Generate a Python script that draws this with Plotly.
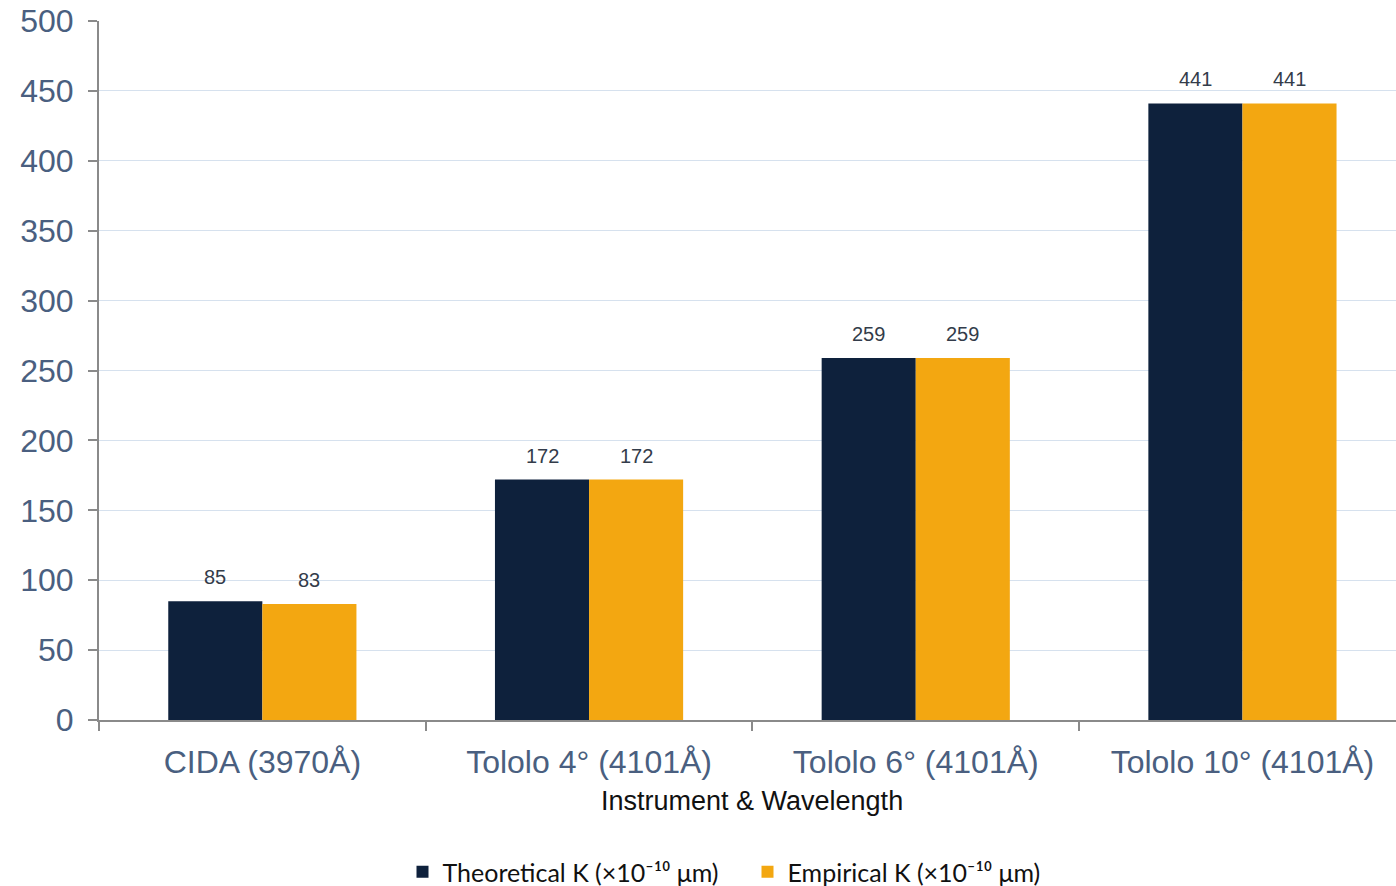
import plotly.graph_objects as go

# Chart data
categories = ["CIDA (3970Å)", "Tololo 4° (4101Å)", "Tololo 6° (4101Å)", "Tololo 10° (4101Å)"]
theoretical_k = [85, 172, 259, 441]
empirical_k = [83, 172, 259, 441]
series_names = ["Theoretical K (×10⁻¹⁰ μm)", "Empirical K (×10⁻¹⁰ μm)"]
y_ticks = [0, 50, 100, 150, 200, 250, 300, 350, 400, 450, 500]

NAVY = "#0e213c"
AMBER = "#f3a711"
TICK_BLUE = "#4a5f80"
AXIS_GRAY = "#8a8a8a"
GRID = "#d6e1ee"
SANS = "Arial, Liberation Sans, sans-serif"

BAR_W = 0.288

fig = go.Figure()
fig.add_trace(go.Bar(x=categories, y=theoretical_k, name=series_names[0],
                     marker=dict(color=NAVY, line=dict(width=0))))
fig.add_trace(go.Bar(x=categories, y=empirical_k, name=series_names[1],
                     marker=dict(color=AMBER, line=dict(width=0))))

# Value labels above each bar
annotations = []
for i, (t, e) in enumerate(zip(theoretical_k, empirical_k)):
    for off, v in ((-BAR_W / 2, t), (BAR_W / 2, e)):
        annotations.append(dict(x=i + off, y=v, xref="x", yref="y", text=str(v),
                                showarrow=False, yanchor="bottom", yshift=11,
                                font=dict(family=SANS, size=20, color="#333c4a")))

annotations.append(dict(x=0.5035, y=-0.1159, xref="paper", yref="paper", text="Instrument & Wavelength",
                        showarrow=False, yanchor="middle",
                        font=dict(family=SANS, size=27, color="#111111")))

fig.update_layout(
    width=1396, height=886,
    margin=dict(l=99, r=0, t=21, b=166, autoexpand=False),
    paper_bgcolor="white", plot_bgcolor="white",
    barmode="group", bargap=0.424, bargroupgap=0,
    showlegend=True,
    legend=dict(orientation="h", x=0.5, xanchor="center", y=-0.2175, yanchor="middle",
                font=dict(family="Lato, Open Sans", size=25, color="#111111"),
                itemwidth=30, traceorder="normal", entrywidth=300),
    annotations=annotations,
    xaxis=dict(
        type="category", range=[-0.5, 3.47],
        tickson="boundaries", ticks="outside", ticklen=9, tickwidth=2, tickcolor=AXIS_GRAY,
        ticklabelstandoff=13,
        showline=True, linecolor=AXIS_GRAY, linewidth=2,
        showgrid=False,
        tickfont=dict(family=SANS, size=32, color=TICK_BLUE),
    ),
    yaxis=dict(
        range=[0, 500], tickvals=y_ticks,
        ticks="outside", ticklen=9, tickwidth=2, tickcolor=AXIS_GRAY,
        ticklabelstandoff=8,
        showline=True, linecolor=AXIS_GRAY, linewidth=2,
        showgrid=True, gridcolor=GRID, gridwidth=1,
        zeroline=False,
        tickfont=dict(family=SANS, size=32, color=TICK_BLUE),
    ),
)

fig.write_html("out.html")
